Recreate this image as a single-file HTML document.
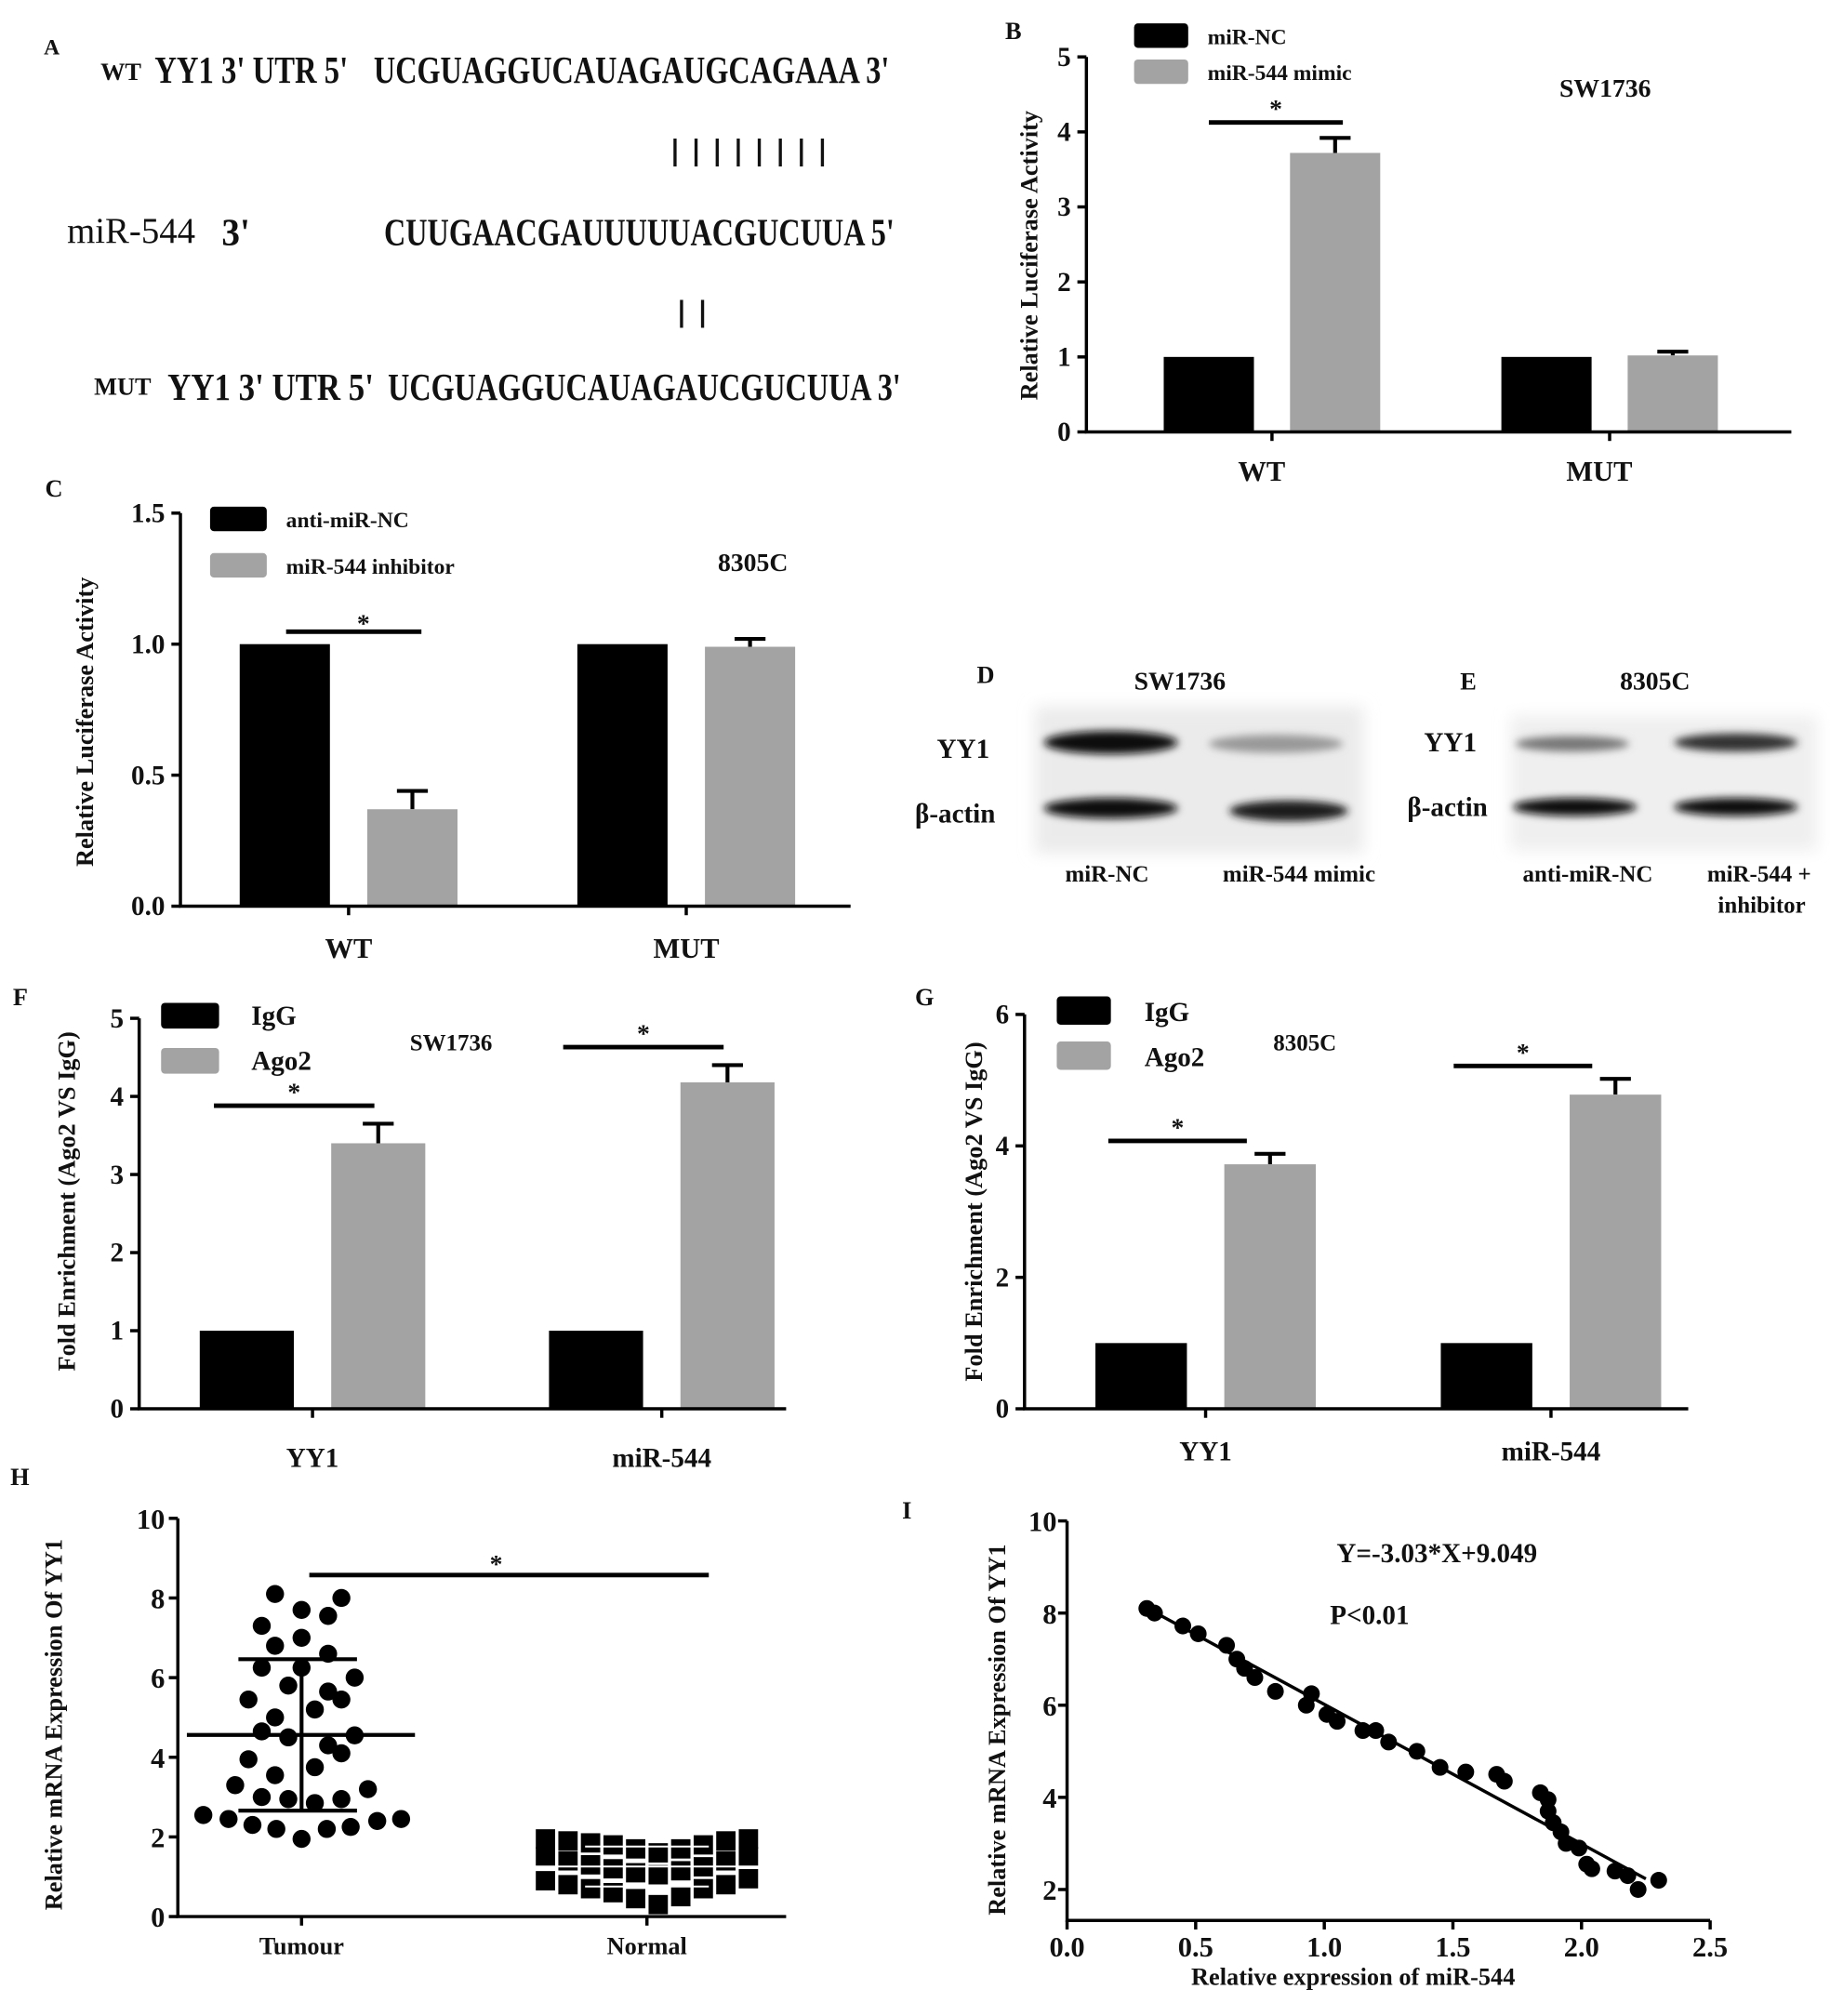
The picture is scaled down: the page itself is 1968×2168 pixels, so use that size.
<!DOCTYPE html>
<html><head><meta charset="utf-8"><style>
html,body{margin:0;padding:0;background:#fff}
svg{display:block}
text{font-family:"Liberation Serif",serif;font-weight:bold;fill:#111}
</style></head><body>
<svg id="fig" width="1968" height="2168" viewBox="0 0 1420 1564" xmlns="http://www.w3.org/2000/svg">
<defs>
<filter id="blur" x="-20%" y="-100%" width="140%" height="300%"><feGaussianBlur stdDeviation="3"/></filter>
<filter id="blur2"><feGaussianBlur stdDeviation="6"/></filter>
</defs>
<g>
<text x="34" y="42" font-size="17">A</text>
<text x="78" y="62" font-size="19">WT</text>
<text x="120" y="64" font-size="30" textLength="150" lengthAdjust="spacingAndGlyphs">YY1 3' UTR 5'</text>
<text x="290" y="64" font-size="30" textLength="400" lengthAdjust="spacingAndGlyphs">UCGUAGGUCAUAGAUGCAGAAA 3'</text>
<text x="520" y="124" font-size="24" textLength="122" lengthAdjust="spacingAndGlyphs" font-weight="normal">| | | | | | | |</text>
<text x="52" y="188" font-size="28" font-weight="normal" style="font-weight:normal">miR-544</text>
<text x="172" y="190" font-size="30" textLength="22" lengthAdjust="spacingAndGlyphs">3'</text>
<text x="298" y="190" font-size="30" textLength="396" lengthAdjust="spacingAndGlyphs">CUUGAACGAUUUUUACGUCUUA 5'</text>
<text x="525" y="249" font-size="24" textLength="24" lengthAdjust="spacingAndGlyphs" font-weight="normal">| |</text>
<text x="73" y="306" font-size="19">MUT</text>
<text x="130" y="310" font-size="30" textLength="160" lengthAdjust="spacingAndGlyphs">YY1 3' UTR 5'</text>
<text x="301" y="310" font-size="30" textLength="398" lengthAdjust="spacingAndGlyphs">UCGUAGGUCAUAGAUCGUCUUA 3'</text>
</g>
<g id="charts"></g>
<g>
<text x="758" y="530" font-size="19">D</text>
<text x="880" y="535" font-size="20">SW1736</text>
<rect x="803" y="548" width="255" height="114" fill="#ebebeb" filter="url(#blur2)"/>
<text x="727" y="588" font-size="21">YY1</text>
<text x="710" y="638" font-size="21">β-actin</text>
<ellipse cx="862" cy="576" rx="52" ry="9" fill="#111" filter="url(#blur)"/>
<ellipse cx="990" cy="577" rx="52" ry="7" fill="#999" filter="url(#blur)"/>
<ellipse cx="862" cy="627" rx="52" ry="8" fill="#111" filter="url(#blur)"/>
<ellipse cx="1000" cy="629" rx="46" ry="8" fill="#1a1a1a" filter="url(#blur)"/>
<text x="859" y="684" font-size="18" text-anchor="middle">miR-NC</text>
<text x="1008" y="684" font-size="18" text-anchor="middle">miR-544 mimic</text>
</g>
<g>
<text x="1133" y="535" font-size="19">E</text>
<text x="1257" y="535" font-size="20">8305C</text>
<rect x="1172" y="555" width="238" height="105" fill="#efefef" filter="url(#blur2)"/>
<text x="1105" y="583" font-size="21">YY1</text>
<text x="1092" y="633" font-size="21">β-actin</text>
<ellipse cx="1220" cy="577" rx="44" ry="6" fill="#777" filter="url(#blur)"/>
<ellipse cx="1347" cy="576" rx="48" ry="7" fill="#333" filter="url(#blur)"/>
<ellipse cx="1222" cy="626" rx="48" ry="7" fill="#111" filter="url(#blur)"/>
<ellipse cx="1347" cy="626" rx="48" ry="7" fill="#111" filter="url(#blur)"/>
<text x="1232" y="684" font-size="18" text-anchor="middle">anti-miR-NC</text>
<text x="1365" y="684" font-size="18" text-anchor="middle">miR-544 +</text>
<text x="1367" y="708" font-size="18" text-anchor="middle">inhibitor</text>
</g>
</svg>
<script>
// ---- data ----
var bCategories=["WT","MUT"];
var bControl=[1.0,1.0];
var bTreat=[3.72,1.02];
var bTreatErr=[0.2,0.05];
var bTicks=["0","1","2","3","4","5"];
var cCategories=["WT","MUT"];
var cControl=[1.0,1.0];
var cTreat=[0.37,0.99];
var cTreatErr=[0.07,0.03];
var cTicks=["0.0","0.5","1.0","1.5"];
var fCategories=["YY1","miR-544"];
var fIgG=[1.0,1.0];
var fAgo2=[3.4,4.18];
var fAgo2Err=[0.25,0.22];
var fTicks=["0","1","2","3","4","5"];
var gCategories=["YY1","miR-544"];
var gIgG=[1.0,1.0];
var gAgo2=[3.72,4.78];
var gAgo2Err=[0.16,0.24];
var gTicks=["0","2","4","6"];
var hTumour=[8.1,8.0,7.7,7.55,7.3,7.0,6.8,6.6,6.25,6.25,6.0,5.8,5.65,5.45,5.45,5.2,5.0,4.65,4.5,4.55,4.3,4.1,3.95,3.75,3.55,3.3,3.2,3.0,2.95,2.85,2.95,2.55,2.45,2.3,2.2,1.95,2.2,2.25,2.4,2.45];
var hTumourSlot=[-2,3,0,2,-3,0,-2,2,-3,0,4,-1,2,-4,3,1,-2,-3,-1,4,2,3,-4,1,-2,-5,5,-3,-1,1,3,-7.4,-5.5,-3.7,-1.9,0,1.9,3.7,5.7,7.5];
var hNormal=[1.95,1.9,1.85,1.8,1.7,1.6,1.7,1.8,1.9,1.95, 1.5,1.4,1.3,1.2,1.1,1.05,1.15,1.25,1.4,1.5, 0.9,0.8,0.7,0.6,0.45,0.3,0.5,0.7,0.8,0.95];
var hNormalSlot=[-4.5,-3.5,-2.5,-1.5,-0.5,0.5,1.5,2.5,3.5,4.5,-4.5,-3.5,-2.5,-1.5,-0.5,0.5,1.5,2.5,3.5,4.5,-4.5,-3.5,-2.5,-1.5,-0.5,0.5,1.5,2.5,3.5,4.5];
var hTicks=["0","2","4","6","8","10"];
var iX=[0.31,0.34,0.45,0.51,0.62,0.66,0.69,0.73,0.81,0.93,0.95,1.01,1.05,1.15,1.2,1.25,1.36,1.45,1.55,1.67,1.7,1.84,1.87,1.87,1.89,1.92,1.94,1.99,2.02,2.04,2.13,2.18,2.22,2.3];
var iY=[8.1,8.0,7.72,7.55,7.3,7.0,6.8,6.6,6.3,6.0,6.25,5.8,5.65,5.45,5.45,5.2,5.0,4.65,4.55,4.5,4.35,4.1,3.95,3.7,3.45,3.25,3.0,2.9,2.55,2.45,2.4,2.3,2.0,2.2];
var iXTicks=["0.0","0.5","1.0","1.5","2.0","2.5"];
var iYTicks=["2","4","6","8","10"];

var NS="http://www.w3.org/2000/svg";
var root=document.getElementById('charts');
function mk(tag,attrs,parent,txt){var e=document.createElementNS(NS,tag);for(var k in attrs)e.setAttribute(k,attrs[k]);if(txt!==undefined)e.textContent=txt;(parent||root).appendChild(e);return e;}
function grp(name){var g=mk('g',{},root);


return g;}

function barChart(o){
  var g=grp(o.name);
  var y=function(v){return o.y0-(v-o.vmin)/(o.vmax-o.vmin)*(o.y0-o.y1);};
  for(var i=0;i<o.cats.length;i++){
    var bx=o.catX[i];
    var b1=mk('rect',{x:bx,y:y(o.ctrl[i]),width:o.bw,height:o.y0-y(o.ctrl[i]),fill:'#000'},g);
    
    
    var tx=bx+o.gap;
    var top=o.treat[i]+o.err[i];
    var el=mk('path',{d:'M'+(tx+o.bw/2)+' '+y(o.treat[i])+'V'+y(top)+'M'+(tx+o.bw/2-12)+' '+y(top)+'H'+(tx+o.bw/2+12),stroke:'#000','stroke-width':3,fill:'none'},g);
    
    
    var b2=mk('rect',{x:tx,y:y(o.treat[i]),width:o.bw,height:o.y0-y(o.treat[i]),fill:'#a3a3a3'},g);
    
    
    var lab=mk('text',{x:bx+o.gap/2+o.bw/2+(o.labDx||0),y:o.labY,'font-size':o.labFs||22,'text-anchor':'middle'},g,o.cats[i]);
    
    
  }
  var ax=mk('path',{d:'M'+o.x0+' '+o.y1+'V'+o.y0+'H'+o.xEnd,stroke:'#000','stroke-width':2.5,fill:'none'},g);
  
  
  for(var t=0;t<o.ticks.length;t++){
    var v=parseFloat(o.ticks[t]);var yy=y(v);
    mk('line',{x1:o.x0-7,x2:o.x0,y1:yy,y2:yy,stroke:'#000','stroke-width':2.5},g);
    var tl=mk('text',{x:o.x0-12,y:yy+7,'font-size':o.tickFs||21,'text-anchor':'end'},g,o.ticks[t]);
    
    
  }
  for(var i=0;i<o.cats.length;i++){var cx=o.catX[i]+o.gap/2+o.bw/2;mk('line',{x1:cx,x2:cx,y1:o.y0,y2:o.y0+7,stroke:'#000','stroke-width':2.5},g);}
  var yt=mk('text',{x:o.titleX,y:o.titleY,'font-size':o.titleFs||19,'text-anchor':'middle',transform:'rotate(-90 '+o.titleX+' '+o.titleY+')'},g,o.title);
  
  
  var lg=mk('g',{},g);
  
  
  mk('rect',{x:o.leg.x,y:o.leg.y1,width:o.leg.w,height:o.leg.h,fill:'#000',rx:3},lg);
  mk('rect',{x:o.leg.x,y:o.leg.y2,width:o.leg.w,height:o.leg.h,fill:'#a3a3a3',rx:3},lg);
  mk('text',{x:o.leg.tx,y:o.leg.y1+o.leg.h-3,'font-size':o.leg.fs},lg,o.leg.l1);
  mk('text',{x:o.leg.tx,y:o.leg.y2+o.leg.h-3,'font-size':o.leg.fs},lg,o.leg.l2);
  mk('text',{x:o.cell.x,y:o.cell.y,'font-size':o.cell.fs||20},g,o.cell.t);
  mk('text',{x:o.panel.x,y:o.panel.y,'font-size':19},g,o.panel.t);
  for(var s=0;s<o.sig.length;s++){
    var i=o.sig[s];var top=o.treat[i]+o.err[i];var sy=y(top)-o.sigOff;
    var x1=o.catX[i]+(o.sigL||35),x2=o.catX[i]+o.gap+o.bw/2+(o.sigR||7);
    var sl=mk('line',{x1:x1,x2:x2,y1:sy,y2:sy,stroke:'#000','stroke-width':3.5},g);
    
    
    mk('text',{x:(x1+x2)/2,y:sy-4,'font-size':20,'text-anchor':'middle',fill:'#222'},g,'*');
  }
}

barChart({name:'panel-b-chart',cats:bCategories,ctrl:bControl,treat:bTreat,err:bTreatErr,ticks:bTicks,vmin:0,vmax:5,
 x0:843,y0:335,y1:44,xEnd:1390,catX:[903,1165],bw:70,gap:98,labY:373,labFs:22,labDx:-8,
 title:'Relative Luciferase Activity',titleX:805,titleY:198,
 leg:{x:880,y1:18,y2:46,w:42,h:19,tx:937,fs:17,l1:'miR-NC',l2:'miR-544 mimic'},
 cell:{x:1210,y:75,t:'SW1736'},panel:{x:780,y:30,t:'B'},sig:[0],sigOff:12,sigL:35,sigR:6});
barChart({name:'panel-c-chart',cats:cCategories,ctrl:cControl,treat:cTreat,err:cTreatErr,ticks:cTicks,vmin:0,vmax:1.5,
 x0:140,y0:703,y1:398,xEnd:660,catX:[186,448],bw:70,gap:99,labY:743,labFs:22,
 title:'Relative Luciferase Activity',titleX:72,titleY:560,
 leg:{x:163,y1:393,y2:429,w:44,h:19,tx:222,fs:17,l1:'anti-miR-NC',l2:'miR-544 inhibitor'},
 cell:{x:557,y:443,t:'8305C'},panel:{x:35,y:385,t:'C'},sig:[],sigOff:0});
(function(){var g=root.lastChild;var sl=mk('line',{x1:222,x2:327,y1:490,y2:490,stroke:'#000','stroke-width':3.5},g);


mk('text',{x:282,y:490,'font-size':20,'text-anchor':'middle'},g,'*');})();
barChart({name:'panel-f-chart',cats:fCategories,ctrl:fIgG,treat:fAgo2,err:fAgo2Err,ticks:fTicks,vmin:0,vmax:5,
 x0:108,y0:1093,y1:790,xEnd:610,catX:[155,426],bw:73,gap:102,labY:1138,labFs:21,
 title:'Fold Enrichment (Ago2 VS IgG)',titleX:58,titleY:932,
 leg:{x:125,y1:778,y2:813,w:45,h:20,tx:195,fs:21,l1:'IgG',l2:'Ago2'},
 cell:{x:318,y:815,t:'SW1736',fs:18},panel:{x:10,y:780,t:'F'},sig:[0,1],sigOff:14,sigL:11,sigR:-3});
barChart({name:'panel-g-chart',cats:gCategories,ctrl:gIgG,treat:gAgo2,err:gAgo2Err,ticks:gTicks,vmin:0,vmax:6,
 x0:795,y0:1093,y1:787,xEnd:1310,catX:[850,1118],bw:71,gap:100,labY:1133,labFs:21,
 title:'Fold Enrichment (Ago2 VS IgG)',titleX:762,titleY:940,
 leg:{x:820,y1:773,y2:808,w:42,h:22,tx:888,fs:21,l1:'IgG',l2:'Ago2'},
 cell:{x:988,y:815,t:'8305C',fs:18},panel:{x:710,y:780,t:'G'},sig:[0,1],sigOff:10,sigL:10,sigR:-18});

// ---- panel H ----
(function(){
 var g=grp('panel-h-chart');
 var x0=138,y0=1487,y1=1178,xEnd=610,cT=234,cN=502,slotW=10.3;
 var y=function(v){return y0-v/10*(y0-y1);};
 mk('text',{x:8,y:1152,'font-size':19},g,'H');
 for(var i=0;i<hTumour.length;i++){
  var c=mk('circle',{cx:cT+hTumourSlot[i]*slotW,cy:y(hTumour[i]),r:7,fill:'#000'},g);
  
  
 }
 for(var i=0;i<hNormal.length;i++){
  var s=mk('rect',{x:cN+hNormalSlot[i]*17.5-7.5,y:y(hNormal[i])-7.5,width:15,height:15,fill:'#000'},g);
  
  
 }
 function mean(a){var s=0;for(var i=0;i<a.length;i++)s+=a[i];return s/a.length;}
 function sd(a){var m=mean(a),s=0;for(var i=0;i<a.length;i++)s+=(a[i]-m)*(a[i]-m);return Math.sqrt(s/(a.length-1));}
 var mT=mean(hTumour),sT=sd(hTumour),mN=mean(hNormal),sN=sd(hNormal);
 var ml=mk('path',{d:'M'+(cT-89)+' '+y(mT)+'H'+(cT+88)+'M'+(cT-49)+' '+y(mT+sT)+'H'+(cT+43)+'M'+(cT-49)+' '+y(mT-sT)+'H'+(cT+43)+'M'+cT+' '+y(mT+sT)+'V'+y(mT-sT),stroke:'#000','stroke-width':3,fill:'none'},g);
 
 
 var nl=mk('path',{d:'M'+(cN-88)+' '+y(mN)+'H'+(cN+88)+'M'+(cN-48)+' '+y(mN+sN)+'H'+(cN+48)+'M'+(cN-48)+' '+y(mN-sN)+'H'+(cN+48),stroke:'#fff','stroke-width':1.5,fill:'none'},g);
 
 
 var ax=mk('path',{d:'M'+x0+' '+y1+'V'+y0+'H'+xEnd,stroke:'#000','stroke-width':2.5,fill:'none'},g);
 
 
 for(var t=0;t<hTicks.length;t++){var yy=y(parseFloat(hTicks[t]));mk('line',{x1:x0-7,x2:x0,y1:yy,y2:yy,stroke:'#000','stroke-width':2.5},g);
  var tl=mk('text',{x:x0-10,y:yy+8,'font-size':22,'text-anchor':'end'},g,hTicks[t]);
  
  }
 mk('line',{x1:cT,x2:cT,y1:y0,y2:y0+7,stroke:'#000','stroke-width':2.5},g);
 mk('line',{x1:cN,x2:cN,y1:y0,y2:y0+7,stroke:'#000','stroke-width':2.5},g);
 mk('text',{x:cT,y:1516,'font-size':19,'text-anchor':'middle'},g,'Tumour');
 mk('text',{x:cN,y:1516,'font-size':19,'text-anchor':'middle'},g,'Normal');
 var yt=mk('text',{x:48,y:1338,'font-size':19,'text-anchor':'middle',transform:'rotate(-90 48 1338)'},g,'Relative mRNA Expression Of YY1');
 
 
 var sl=mk('line',{x1:240,x2:550,y1:1222,y2:1222,stroke:'#000','stroke-width':3.5},g);
 
 
 mk('text',{x:385,y:1220,'font-size':20,'text-anchor':'middle',fill:'#333'},g,'*');
})();

// ---- panel I ----
(function(){
 var g=grp('panel-i-chart');
 var x0=828,x1=1327,y0=1490,yTop=1180;
 var X=function(v){return x0+v/2.5*(x1-x0);};
 var Y=function(v){return 1466-(v-2)/8*(1466-yTop);};
 mk('text',{x:700,y:1178,'font-size':19},g,'I');
 for(var i=0;i<iX.length;i++){
  var c=mk('circle',{cx:X(iX[i]),cy:Y(iY[i]),r:6.5,fill:'#000'},g);
  
  
 }
 var fx1=0.32,fx2=2.25;
 var fl=mk('line',{x1:X(fx1),y1:Y(-3.03*fx1+9.049),x2:X(fx2),y2:Y(-3.03*fx2+9.049),stroke:'#000','stroke-width':2.5},g);
 
 
 var ax=mk('path',{d:'M'+x0+' '+yTop+'V'+y0+'H'+x1,stroke:'#000','stroke-width':2.5,fill:'none'},g);
 
 
 for(var t=0;t<iYTicks.length;t++){var yy=Y(parseFloat(iYTicks[t]));mk('line',{x1:x0-7,x2:x0,y1:yy,y2:yy,stroke:'#000','stroke-width':2.5},g);
  var tl=mk('text',{x:x0-8,y:yy+8,'font-size':22,'text-anchor':'end'},g,iYTicks[t]);
  
  }
 for(var t=0;t<iXTicks.length;t++){var xx=X(parseFloat(iXTicks[t]));mk('line',{x1:xx,x2:xx,y1:y0,y2:y0+7,stroke:'#000','stroke-width':2.5},g);
  var tl=mk('text',{x:xx,y:1518,'font-size':22,'text-anchor':'middle'},g,iXTicks[t]);
  
  }
 var xt=mk('text',{x:1050,y:1540,'font-size':19,'text-anchor':'middle'},g,'Relative expression of miR-544');
 
 
 var yt=mk('text',{x:780,y:1342,'font-size':19,'text-anchor':'middle',transform:'rotate(-90 780 1342)'},g,'Relative mRNA Expression Of YY1');
 
 
 var eq=mk('text',{x:1115,y:1212,'font-size':21,'text-anchor':'middle'},g,'Y=-3.03*X+9.049');
 
 
 mk('text',{x:1032,y:1260,'font-size':21},g,'P<0.01');
})();
</script>
</body></html>
